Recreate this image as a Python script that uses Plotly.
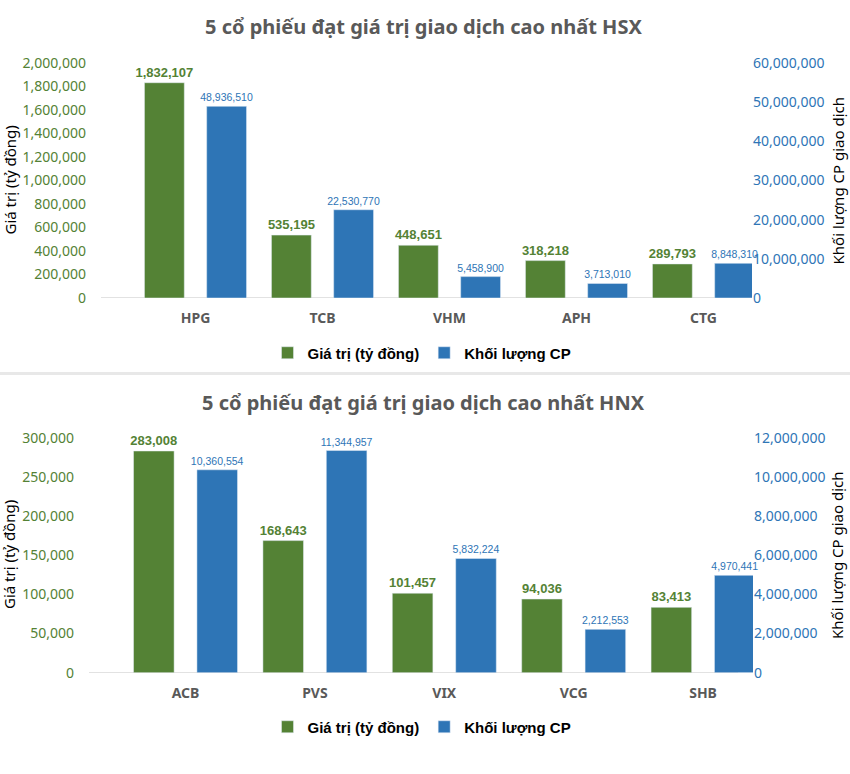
import plotly.graph_objects as go

# ---- data ----
hsx_tickers = ["HPG", "TCB", "VHM", "APH", "CTG"]
hsx_value = [1832107, 535195, 448651, 318218, 289793]          # tỷ đồng
hsx_volume = [48936510, 22530770, 5458900, 3713010, 8848310]   # CP

hnx_tickers = ["ACB", "PVS", "VIX", "VCG", "SHB"]
hnx_value = [283008, 168643, 101457, 94036, 83413]
hnx_volume = [10360554, 11344957, 5832224, 2212553, 4970441]

title_hsx = "5 cổ phiếu đạt giá trị giao dịch cao nhất HSX"
title_hnx = "5 cổ phiếu đạt giá trị giao dịch cao nhất HNX"
name_value = "Giá trị (tỷ đồng)"
name_volume = "Khối lượng CP"
left_title = "Giá trị (tỷ đồng)"
right_title = "Khối lượng CP giao dịch"

GREEN = "#548235"
BLUE = "#2E75B6"
GRAY = "#595959"
W, H = 850, 774

def px_x(p):
    return p / W

def px_y(p):
    return 1 - p / H

fig = go.Figure()

green_txt = dict(family="Liberation Sans, Arial, sans-serif", size=13, color=GREEN)
blue_txt = dict(family="Liberation Sans, Arial, sans-serif", size=10.5, color=BLUE)

bar_common = dict(textposition="outside", cliponaxis=False, constraintext="none")

# top chart
fig.add_trace(go.Bar(x=hsx_tickers, y=hsx_value, name=name_value, marker_color=GREEN,
                     xaxis="x", yaxis="y", offsetgroup=1, legend="legend",
                     texttemplate="<b>%{y:,.0f}</b>", textfont=green_txt, **bar_common))
fig.add_trace(go.Bar(x=hsx_tickers, y=hsx_volume, name=name_volume, marker_color=BLUE,
                     xaxis="x", yaxis="y2", offsetgroup=2, legend="legend",
                     texttemplate="%{y:,.0f}", textfont=blue_txt, **bar_common))
# bottom chart
fig.add_trace(go.Bar(x=hnx_tickers, y=hnx_value, name=name_value, marker_color=GREEN,
                     xaxis="x2", yaxis="y3", offsetgroup=1, legend="legend2",
                     texttemplate="<b>%{y:,.0f}</b>", textfont=green_txt, **bar_common))
fig.add_trace(go.Bar(x=hnx_tickers, y=hnx_volume, name=name_volume, marker_color=BLUE,
                     xaxis="x2", yaxis="y4", offsetgroup=2, legend="legend2",
                     texttemplate="%{y:,.0f}", textfont=blue_txt, **bar_common))

tick_font_l = dict(family="Noto Sans, sans-serif", size=14, color=GREEN)
tick_font_r = dict(family="Noto Sans, sans-serif", size=14, color=BLUE)
cat_font = dict(family="Noto Sans, sans-serif", size=14, color=GRAY, weight="bold")

common_x = dict(showgrid=False, showline=False, zeroline=False, ticks="",
                tickfont=cat_font, automargin=False, ticklabelstandoff=10)
common_y = dict(showgrid=False, showline=False, zeroline=False, ticks="", automargin=False)

leg_font = dict(family="Liberation Sans, Arial, sans-serif", size=15, color="black", weight="bold")

fig.update_layout(
    width=W, height=H, autosize=False,
    margin=dict(l=0, r=0, t=0, b=0, autoexpand=False),
    paper_bgcolor="white", plot_bgcolor="white",
    barmode="group", bargap=0.02, bargroupgap=0.36,
    xaxis=dict(domain=[px_x(101), px_x(752)], anchor="y", range=[-0.744, 4.382], **common_x),
    yaxis=dict(domain=[px_y(298), px_y(63)], anchor="x", range=[0, 2000000], dtick=200000,
               tickformat=",d", tickfont=tick_font_l, ticklabelstandoff=14, **common_y),
    yaxis2=dict(overlaying="y", side="right", anchor="x", range=[0, 60000000], dtick=10000000,
                tickformat=",d", tickfont=tick_font_r, ticklabelstandoff=0, **common_y),
    xaxis2=dict(domain=[px_x(89), px_x(753)], anchor="y3", range=[-0.746, 4.386], **common_x),
    yaxis3=dict(domain=[px_y(672.7), px_y(437.7)], anchor="x2", range=[0, 300000], dtick=50000,
                tickformat=",d", tickfont=tick_font_l, ticklabelstandoff=14, **common_y),
    yaxis4=dict(overlaying="y3", side="right", anchor="x2", range=[0, 12000000], dtick=2000000,
                tickformat=",d", tickfont=tick_font_r, ticklabelstandoff=0, **common_y),
    legend=dict(orientation="h", x=px_x(422), xanchor="center", y=px_y(353), yanchor="middle",
                font=leg_font, itemwidth=30, bgcolor="rgba(0,0,0,0)", tracegroupgap=0),
    legend2=dict(orientation="h", x=px_x(422), xanchor="center", y=px_y(727), yanchor="middle",
                 font=leg_font, itemwidth=30, bgcolor="rgba(0,0,0,0)", tracegroupgap=0),
)

title_font = dict(family="Noto Sans, sans-serif", size=20, color=GRAY, weight="bold")
axis_title_font = dict(family="Noto Sans, sans-serif", size=15, color="black")

anns = [
    dict(text=title_hsx, x=px_x(423), y=px_y(27), font=title_font),
    dict(text=title_hnx, x=px_x(423), y=px_y(403), font=title_font),
    dict(text=left_title, x=px_x(9), y=px_y(180.5), textangle=-90, font=axis_title_font),
    dict(text=right_title, x=px_x(837), y=px_y(180.5), textangle=-90, font=axis_title_font),
    dict(text=left_title, x=px_x(9), y=px_y(555), textangle=-90, font=axis_title_font),
    dict(text=right_title, x=px_x(837), y=px_y(555), textangle=-90, font=axis_title_font),
]
for a in anns:
    fig.add_annotation(xref="paper", yref="paper", xanchor="center", yanchor="middle",
                       showarrow=False, **a)

# baselines and separator
fig.add_shape(type="line", xref="paper", yref="y", x0=px_x(101), x1=px_x(738), y0=0, y1=0,
              line=dict(color="#D9D9D9", width=1.5), layer="below")
fig.add_shape(type="line", xref="paper", yref="y3", x0=px_x(89), x1=px_x(738), y0=0, y1=0,
              line=dict(color="#D9D9D9", width=1.5), layer="below")
fig.add_shape(type="rect", xref="paper", yref="paper", x0=0, x1=1,
              y0=px_y(375), y1=px_y(372), fillcolor="#E8E8E8", line=dict(width=0), layer="below")

# remove the browser's default 8px body margin so the figure starts at the page corner
fig.write_html("out.html", config={"displayModeBar": False},
               post_script="document.body.style.margin='0px';")
